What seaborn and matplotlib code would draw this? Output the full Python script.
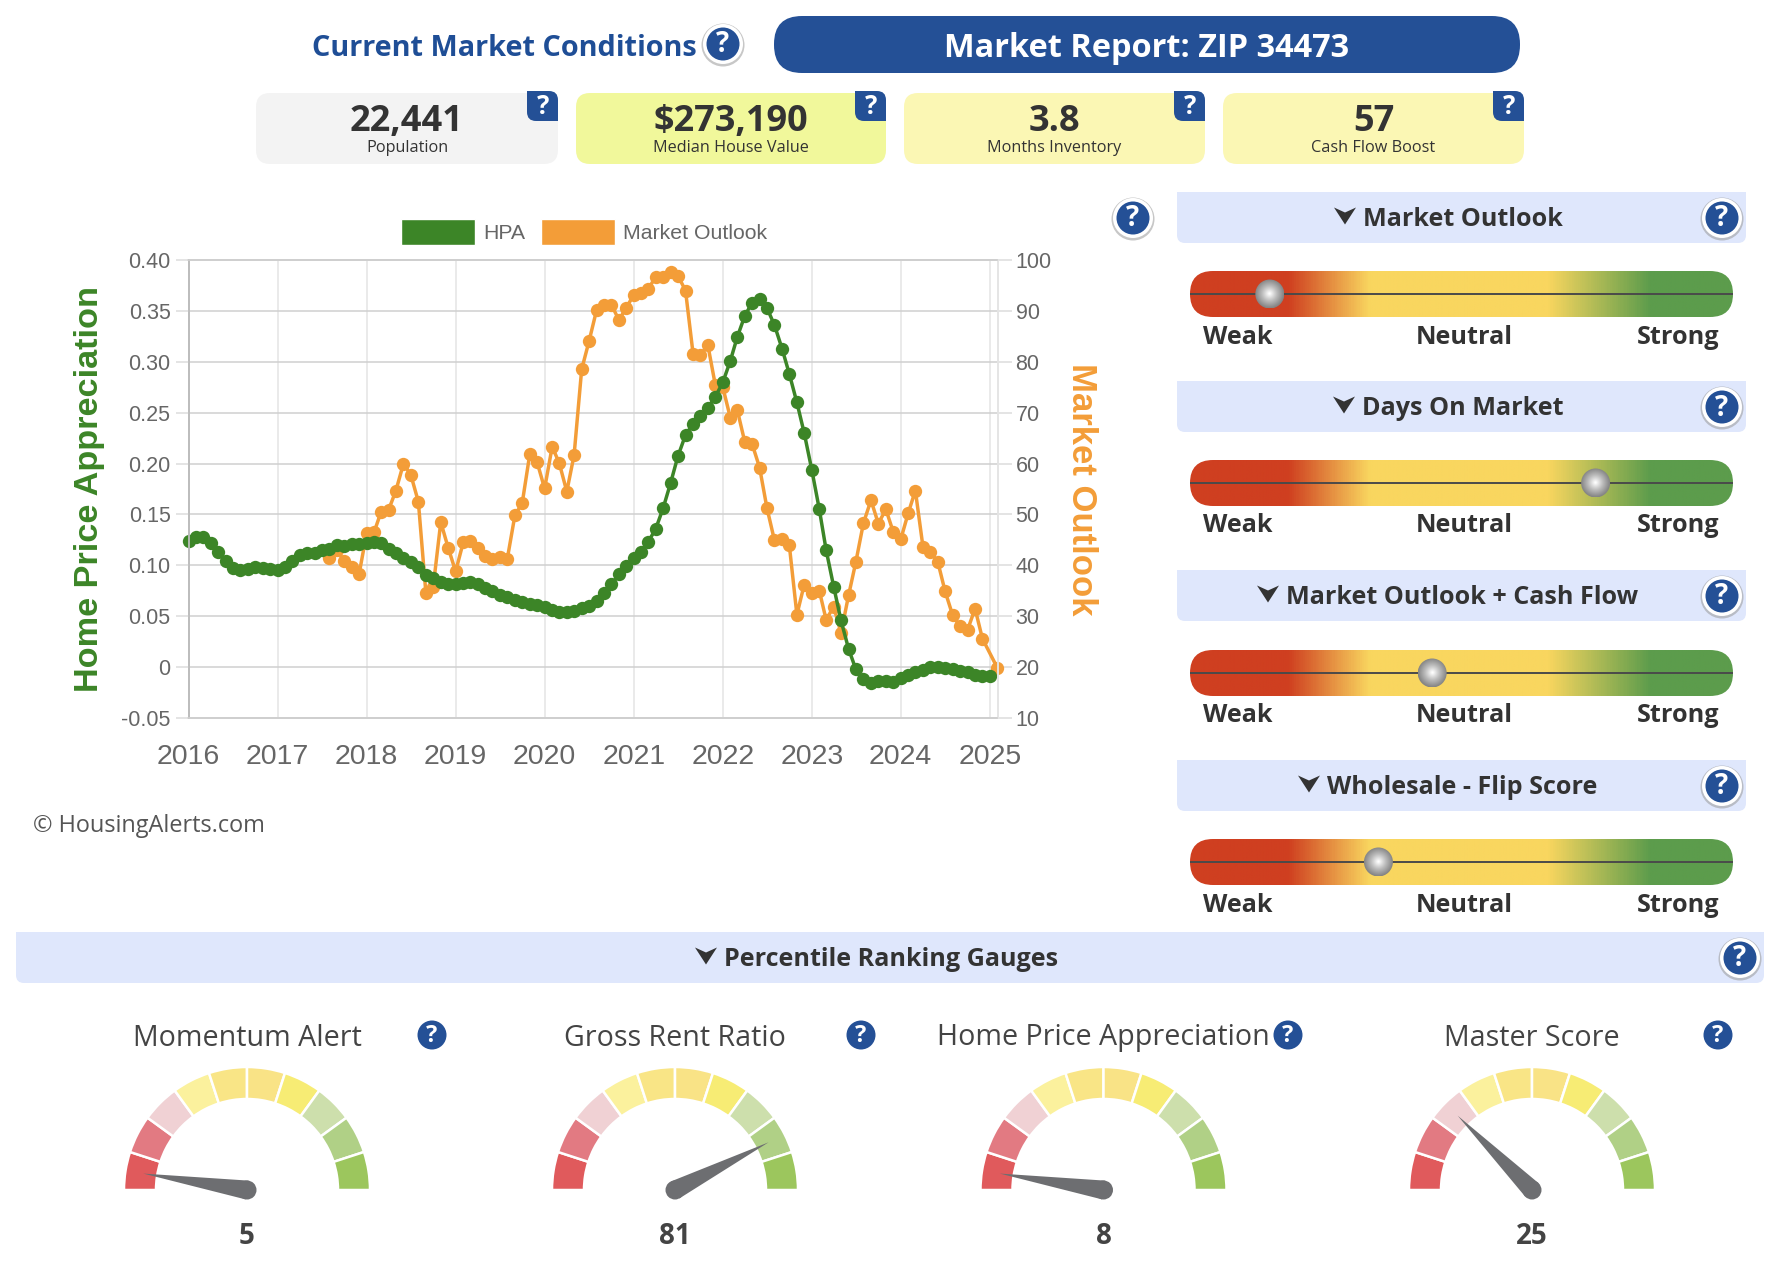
import numpy as np
import pandas as pd
import matplotlib
matplotlib.use("Agg")
import matplotlib.pyplot as plt
import seaborn as sns
from matplotlib.colors import LinearSegmentedColormap
from matplotlib.patches import Circle, FancyBboxPatch, Patch, Polygon, Rectangle, Wedge

GREEN = "#3c8527"
ORANGE = "#f39d38"
BLUE = "#245096"
DARK = "#333333"
GREY = "#666666"
BAND = "#dfe7fc"

# monthly values, HPA from 2016-01, outlook from 2017-08 (no outlook point for 2025-01)
hpa_values = [
    0.1238, 0.128, 0.128, 0.122, 0.113, 0.104, 0.097, 0.095, 0.096, 0.0985, 0.0975, 0.096,
    0.095, 0.098, 0.104, 0.110, 0.1117, 0.1117, 0.115, 0.1165, 0.12, 0.119, 0.1205, 0.1205,
    0.122, 0.123, 0.122, 0.1165, 0.1117, 0.107, 0.103, 0.098, 0.0907, 0.0874, 0.0835, 0.0815,
    0.0815, 0.083, 0.0835, 0.0815, 0.078, 0.0743, 0.0707, 0.0684, 0.0658, 0.0638, 0.0625, 0.0606,
    0.0586, 0.0566, 0.054, 0.0537, 0.0547, 0.058, 0.0596, 0.0645, 0.0727, 0.0815, 0.091, 0.099,
    0.107, 0.1133, 0.123, 0.136, 0.156, 0.181, 0.2073, 0.228, 0.239, 0.247, 0.255, 0.2655,
    0.2797, 0.301, 0.324, 0.345, 0.358, 0.362, 0.353, 0.336, 0.313, 0.288, 0.26, 0.23,
    0.194, 0.155, 0.115, 0.079, 0.0458, 0.018, -0.0023, -0.012, -0.0154, -0.014, -0.014, -0.0144,
    -0.011, -0.008, -0.005, -0.003, 0.0, 0.0, -0.0013, -0.0023, -0.0036, -0.0052, -0.0075, -0.0085,
    -0.0088,
]
outlook_values = [
    41.5, 43, 40.9, 39.6, 38.3,
    46.4, 46.6, 50.5, 50.9, 54.7, 60, 57.8, 52.5, 34.5, 35.8, 48.5, 43.5,
    38.8, 44.5, 44.7, 43.4, 41.9, 41.3, 41.7, 41.3, 49.8, 52.2, 61.8, 60.3,
    55.1, 63.3, 60.1, 54.5, 61.7, 78.5, 84, 90.1, 91.1, 91.2, 88.2, 90.6,
    93.2, 93.5, 94.3, 96.7, 96.7, 97.6, 96.9, 94, 81.6, 81.4, 83.2, 75.5,
    75, 69, 70.6, 64.3, 63.9, 59.2, 51.3, 44.9, 45.2, 43.9, 30.3, 36.2,
    34.5, 35, 29.3, 31.9, 26.7, 34.1, 40.7, 48.3, 52.8, 48.2, 51, 46.6,
    45.1, 50.3, 54.7, 43.7, 42.7, 40.7, 34.9, 30.2, 28, 27.3, 31.5, 25.6,
]
outlook_last = 19.8
hpa_ticks = [-0.05, 0, 0.05, 0.10, 0.15, 0.20, 0.25, 0.30, 0.35, 0.40]
hpa_tick_labels = ["-0.05", "0", "0.05", "0.10", "0.15", "0.20", "0.25", "0.30", "0.35", "0.40"]
outlook_ticks = [10, 20, 30, 40, 50, 60, 70, 80, 90, 100]
year_labels = ["2016", "2017", "2018", "2019", "2020", "2021", "2022", "2023", "2024", "2025"]

card_values = ["22,441", "$273,190", "3.8", "57"]
card_names = ["Population", "Median House Value", "Months Inventory", "Cash Flow Boost"]
card_colors = ["#f3f3f3", "#f1f89b", "#fbf7b4", "#fbf7b4"]

slider_names = ["Market Outlook", "Days On Market", "Market Outlook + Cash Flow", "Wholesale - Flip Score"]
slider_positions = [14.7, 74.7, 44.6, 34.7]
slider_ticks = ["Weak", "Neutral", "Strong"]

gauge_names = ["Momentum Alert", "Gross Rent Ratio", "Home Price Appreciation", "Master Score"]
gauge_values = [5, 81, 8, 25]
# where the needle really points, which is not always the printed value
needle_values = [5, 85, 5, 25]
gauge_colors = ["#e05a5c", "#e27a82", "#f0d1d4", "#fbf19d", "#f9e586",
                "#f9e386", "#f7ec74", "#cddfac", "#b0d086", "#9cc65d"]

W, H = 1778, 1269
OPEN = ["Open Sans", "DejaVu Sans"]
HELV = ["Liberation Sans", "DejaVu Sans"]

sns.set_theme(style="white")
plt.rcParams["font.family"] = HELV

fig = plt.figure(figsize=(W / 100, H / 100), dpi=100, facecolor="white")
canvas = fig.add_axes([0, 0, 1, 1], zorder=0)
canvas.set_xlim(0, W)
canvas.set_ylim(H, 0)
canvas.axis("off")


def rounded(x0, y0, x1, y1, r, color, z=1):
    box = FancyBboxPatch((x0, y0), x1 - x0, y1 - y0, boxstyle=f"round,pad=0,rounding_size={r}",
                         fc=color, ec="none", zorder=z)
    canvas.add_patch(box)
    return box


def help_icon(x, y, kind="ring"):
    if kind == "ring":
        canvas.add_patch(Circle((x, y + 1), 21.5, fc="#999999", ec="none", alpha=0.55, zorder=3))
        canvas.add_patch(Circle((x, y), 20, fc="white", ec="none", zorder=3))
        canvas.add_patch(Circle((x, y), 16.5, fc=BLUE, ec="none", zorder=3))
        size = 20
    else:
        canvas.add_patch(Circle((x, y), 14.5, fc=BLUE, ec="none", zorder=3))
        size = 17
    canvas.text(x, y + 1, "?", color="white", fontsize=size, fontweight="bold", family=OPEN,
                ha="center", va="center", zorder=4)


def band(x0, y0, x1, y1, label, text_x, arrow_x):
    rounded(x0, y0, x1, y1, 8, BAND)
    canvas.add_patch(Rectangle((x0, y0), x1 - x0, 15, fc=BAND, ec="none", zorder=1))
    cy = (y0 + y1) / 2
    canvas.text(text_x, cy + 2, label, color=DARK, fontsize=18.1, fontweight="bold", family=OPEN,
                ha="left", va="center", zorder=2)
    arrow = [(arrow_x - 11, cy - 10), (arrow_x, cy - 5), (arrow_x + 11, cy - 10), (arrow_x, cy + 7)]
    canvas.add_patch(Polygon(arrow, closed=True, fc=DARK, ec="none", zorder=2))


# header row
canvas.text(312, 48, "Current Market Conditions", color="#1f4e96", fontsize=20.8, fontweight="bold",
            family=OPEN, ha="left", va="center")
help_icon(723, 44)
rounded(774, 16, 1520, 73, 28, BLUE)
canvas.text(1147, 48.5, "Market Report: ZIP 34473", color="white", fontsize=23.4, fontweight="bold",
            family=OPEN, ha="center", va="center", zorder=2)

card_left = [256, 576, 904, 1223]
card_right = [558, 886, 1205, 1524]
for i in range(4):
    rounded(card_left[i], 93, card_right[i], 164, 14, card_colors[i])
    mid = (card_left[i] + card_right[i]) / 2
    canvas.text(mid, 122, card_values[i], color=DARK, fontsize=26, fontweight="bold", family=OPEN,
                ha="center", va="center", zorder=2)
    canvas.text(mid, 148, card_names[i], color=DARK, fontsize=11.7, family=OPEN,
                ha="center", va="center", zorder=2)
    tx1 = card_right[i]
    tx0 = tx1 - 31
    rounded(tx0, 91, tx1, 121, 9, BLUE, z=2)
    canvas.add_patch(Rectangle((tx0, 91), 12, 12, fc=BLUE, ec="none", zorder=2))
    canvas.add_patch(Rectangle((tx1 - 12, 109), 12, 12, fc=BLUE, ec="none", zorder=2))
    canvas.text(tx0 + 16, 106, "?", color="white", fontsize=18.5, fontweight="bold", family=OPEN,
                ha="center", va="center", zorder=4)

# main chart, the grid lives on ax2 so it stays under both series
ax1 = fig.add_axes([188.5 / W, 1 - 718 / H, (997.5 - 188.5) / W, (718 - 260) / H], zorder=2)
ax2 = ax1.twinx()
ax2.set_zorder(2)
ax1.set_zorder(3)
ax1.patch.set_visible(False)
ax2.patch.set_visible(False)

hpa_dates = pd.date_range("2016-01-01", periods=len(hpa_values), freq="MS")
outlook_dates = pd.date_range("2017-08-01", periods=len(outlook_values), freq="MS")
outlook_dates = outlook_dates.append(pd.DatetimeIndex(["2025-02-01"]))
outlook_series = outlook_values + [outlook_last]

sns.lineplot(x=outlook_dates, y=outlook_series, ax=ax2, color=ORANGE, linewidth=2.5, marker="o",
             markersize=9.6, markeredgewidth=0, clip_on=False, errorbar=None)
sns.lineplot(x=hpa_dates, y=hpa_values, ax=ax1, color=GREEN, linewidth=2.5, marker="o",
             markersize=9.6, markeredgewidth=0, clip_on=False, errorbar=None)

ax1.set_xlim(pd.Timestamp("2016-01-01"), pd.Timestamp("2025-02-01"))
ax1.set_ylim(-0.05, 0.40)
ax2.set_ylim(10, 100)
ax1.set_xticks([pd.Timestamp(y + "-01-01") for y in year_labels])
ax1.set_xticklabels(year_labels)
ax1.set_yticks(hpa_ticks)
ax1.set_yticklabels(hpa_tick_labels)
ax2.set_yticks(outlook_ticks)

ax2.xaxis.set_visible(True)
ax2.set_axisbelow(True)
ax1.grid(False)
ax2.grid(True, axis="y", color="#cfcfcf", linewidth=1.1)
ax2.grid(True, axis="x", color="#e4e4e4", linewidth=1.1)
ax1.tick_params(axis="y", length=9.4, width=1.1, color="#dddddd", labelsize=15.5, labelcolor=GREY, pad=3.5)
ax1.tick_params(axis="x", length=9.4, width=1.1, color="#e4e4e4", labelsize=20.5, labelcolor=GREY, pad=9.5)
ax2.tick_params(axis="y", length=10, width=1.1, color="#dddddd", labelsize=15.5, labelcolor=GREY, pad=3)
ax2.tick_params(axis="x", length=0, labelbottom=False, labeltop=False)
for ax in (ax1, ax2):
    ax.spines["top"].set_color("#cfcfcf")
    ax.spines["bottom"].set_color("#cfcfcf")
    ax.spines["left"].set_color("#bdbdbd")
    ax.spines["right"].set_color("#e4e4e4")
    ax.spines["left"].set_linewidth(1.3)
    ax.spines["right"].set_linewidth(1.1)

ax1.set_xlabel("")
ax2.set_xlabel("")
ax1.set_ylabel("Home Price Appreciation", color=GREEN, fontsize=24.7, fontweight="bold")
ax1.yaxis.set_label_coords(105, 489, transform=canvas.transData)
ax2.set_ylabel("Market Outlook", color=ORANGE, fontsize=25, fontweight="bold", rotation=270)
ax2.yaxis.set_label_coords(1098, 489, transform=canvas.transData)

ax1.legend(handles=[Patch(fc=GREEN, label="HPA"), Patch(fc=ORANGE, label="Market Outlook")],
           loc="center left", bbox_to_anchor=(401, 232), bbox_transform=canvas.transData, ncol=2,
           frameon=False, fontsize=15.3, labelcolor=GREY, borderpad=0, borderaxespad=0,
           handlelength=3.48, handleheight=1.44, handletextpad=0.4, columnspacing=0.72)

help_icon(1133, 218)
canvas.text(33, 825.5, "© HousingAlerts.com", color="#555555", fontsize=16.9, family=OPEN,
            ha="left", va="center")

# sliders
grad = LinearSegmentedColormap.from_list("weak_strong", [
    (0.0, "#cf3f20"), (0.18, "#cf3f20"), (0.33, "#f9d65f"), (0.66, "#f9d65f"),
    (0.85, "#5c9c4c"), (1.0, "#5c9c4c")])
band_tops = [192, 381, 570, 760]
band_text_x = [1363, 1362, 1286, 1327]
bar_tops = [271, 460, 650, 839]
label_xs = [1238, 1464, 1678]
bar_x0, bar_x1 = 1190, 1733
ramp = np.linspace(0, 1, 600).reshape(1, -1)
gx, gy = np.meshgrid(np.linspace(-1, 1, 60), np.linspace(-1, 1, 60))
knob = np.clip(np.hypot(gx, gy), 0, 1)
knob_map = LinearSegmentedColormap.from_list("knob", ["#ffffff", "#bdbdbd", "#858585"])

for i, name in enumerate(slider_names):
    top = band_tops[i]
    band(1177, top, 1746, top + 51, name, band_text_x[i], band_text_x[i] - 18)
    help_icon(1722, top + 26)
    y0 = bar_tops[i]
    clip = rounded(bar_x0, y0, bar_x1, y0 + 46, 23, "none")
    im = canvas.imshow(ramp, cmap=grad, extent=(bar_x0, bar_x1, y0 + 46, y0), aspect="auto", zorder=1)
    im.set_clip_path(clip)
    cy = y0 + 23
    canvas.plot([bar_x0, bar_x1], [cy, cy], color="#4a4a4a", lw=1.4, zorder=2, solid_capstyle="butt")
    kx = bar_x0 + (bar_x1 - bar_x0) * slider_positions[i] / 100
    ring = Circle((kx, cy), 14.5, fc="none", ec="none", zorder=3)
    canvas.add_patch(ring)
    kim = canvas.imshow(knob, cmap=knob_map, extent=(kx - 14.5, kx + 14.5, cy + 14.5, cy - 14.5),
                        aspect="auto", zorder=3)
    kim.set_clip_path(ring)
    for lx, lab in zip(label_xs, slider_ticks):
        canvas.text(lx, y0 + 66, lab, color=DARK, fontsize=18.2, fontweight="bold", family=OPEN,
                    ha="center", va="center", zorder=2)

# gauges
band(16, 932, 1764, 983, "Percentile Ranking Gauges", 724, 706)
help_icon(1740, 958)
gauge_xs = [247, 675, 1103.5, 1532]
gauge_help = [432, 861, 1288, 1718]
gauge_y = 1190
for i, name in enumerate(gauge_names):
    cx = gauge_xs[i]
    canvas.text(cx, 1038, name, color="#444444", fontsize=20.6, family=OPEN, ha="center", va="center")
    help_icon(gauge_help[i], 1035, kind="plain")
    # y axis is flipped on the canvas, so wedge angles run 180..360 for the top half
    for k, col in enumerate(gauge_colors):
        canvas.add_patch(Wedge((cx, gauge_y), 123, 180 + 18 * k, 198 + 18 * k, width=32,
                               fc=col, ec="white", lw=1.8, zorder=1))
    ang = np.deg2rad(180 - 1.8 * needle_values[i])
    ux, uy = np.cos(ang), -np.sin(ang)
    px, py = -uy, ux
    needle = [(cx + 105 * ux, gauge_y + 105 * uy), (cx + 9.5 * px, gauge_y + 9.5 * py),
              (cx - 9.5 * px, gauge_y - 9.5 * py)]
    canvas.add_patch(Polygon(needle, closed=True, fc="#6d6e71", ec="none", zorder=2))
    canvas.add_patch(Circle((cx, gauge_y), 9.5, fc="#6d6e71", ec="none", zorder=2))
    canvas.text(cx, 1236.5, str(gauge_values[i]), color="#444444", fontsize=20, fontweight="bold",
                family=OPEN, ha="center", va="center")

canvas.set_xlim(0, W)
canvas.set_ylim(H, 0)
fig.savefig("out.png", dpi=100)
